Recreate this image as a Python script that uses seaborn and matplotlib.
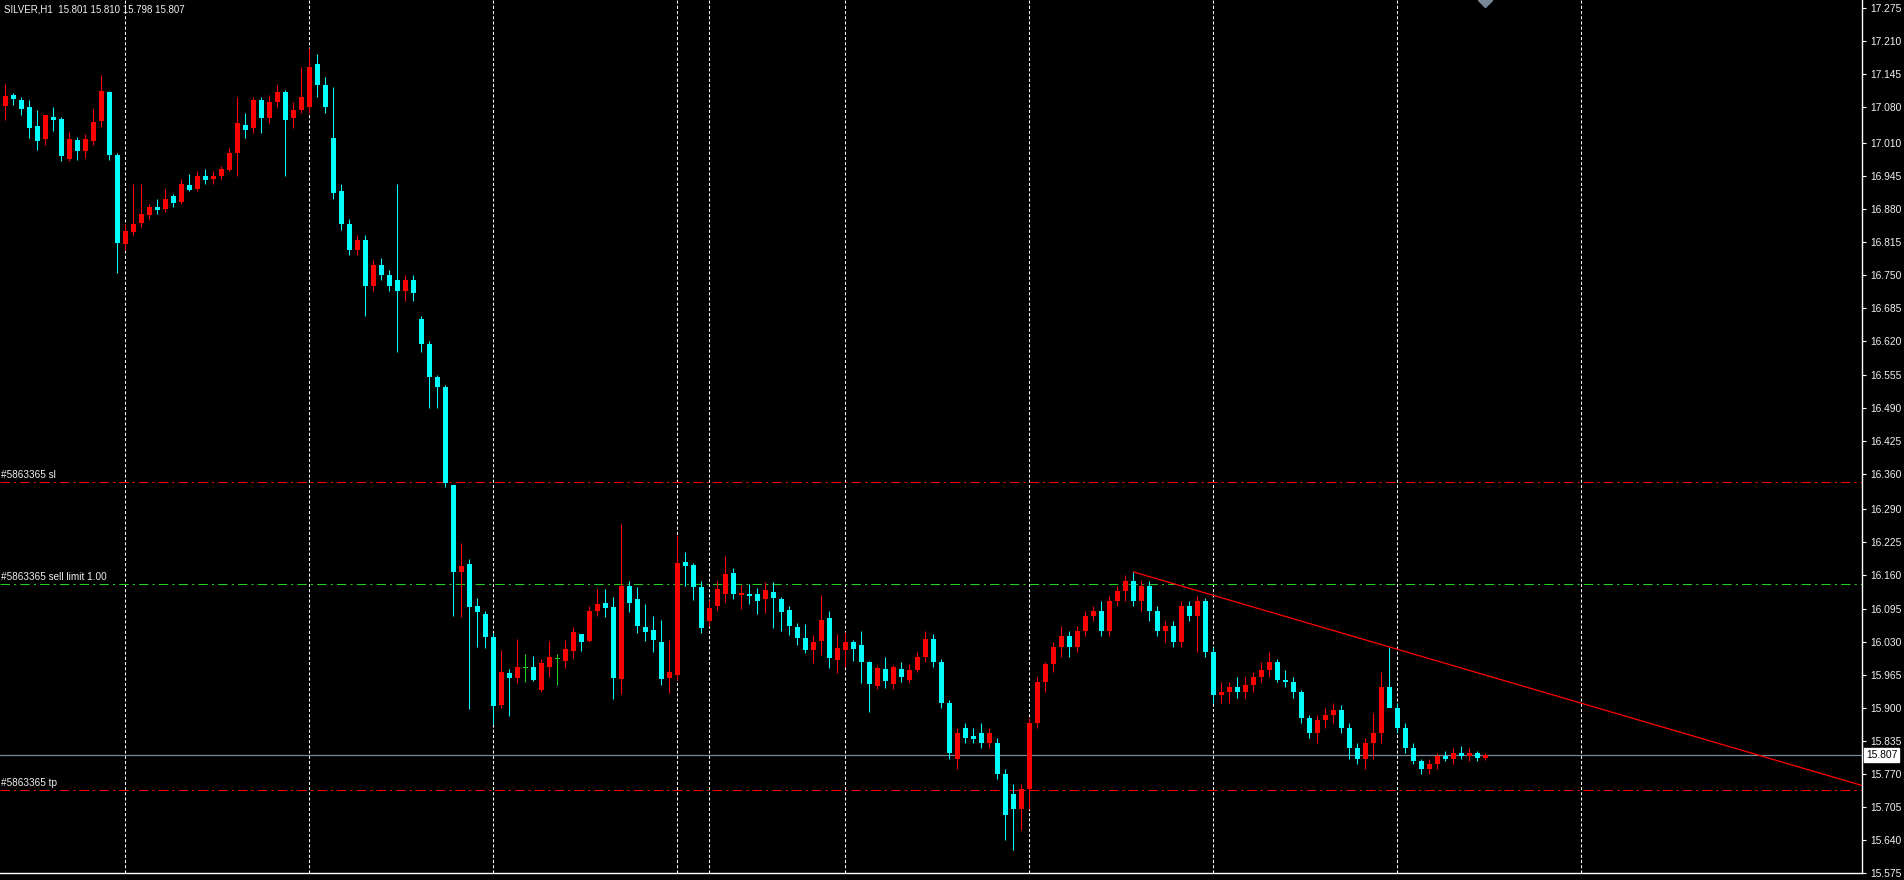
import numpy as np
import pandas as pd
import matplotlib
matplotlib.use("Agg")
import matplotlib.pyplot as plt
import seaborn as sns

# ---------------------------------------------------------------------------
# data: SILVER H1 candles
# ---------------------------------------------------------------------------
OPEN = [
    17.083, 17.105, 17.095, 17.081, 17.044, 17.018, 17.061, 17.057, 16.979, 17.016,
    16.995, 17.014, 17.054, 17.110, 16.987, 16.812, 16.836, 16.852, 16.868, 16.884,
    16.880, 16.905, 16.895, 16.928, 16.920, 16.945, 16.940, 16.945, 16.958, 16.990,
    17.045, 17.040, 17.095, 17.060, 17.090, 17.110, 17.060, 17.075, 17.080, 17.165,
    17.125, 17.020, 16.915, 16.850, 16.800, 16.820, 16.730, 16.770, 16.750, 16.740,
    16.720, 16.740, 16.665, 16.615, 16.550, 16.530, 16.338, 16.167, 16.183, 16.100,
    16.085, 16.039, 15.906, 15.969, 15.959, 15.978, 15.980, 15.935, 15.980, 15.996,
    15.992, 16.012, 16.045, 16.031, 16.090, 16.106, 16.098, 15.957, 16.140, 16.114,
    16.059, 16.053, 16.029, 15.959, 15.965, 16.187, 16.181, 16.138, 16.071, 16.100,
    16.124, 16.165, 16.122, 16.124, 16.124, 16.114, 16.128, 16.114, 16.092, 16.059,
    16.037, 16.014, 16.031, 16.077, 15.994, 16.014, 16.029, 16.024, 15.990, 15.943,
    15.976, 15.947, 15.976, 15.955, 15.975, 16.000, 16.035, 15.990, 15.910, 15.800,
    15.860, 15.845, 15.850, 15.830, 15.830, 15.770, 15.730, 15.700, 15.740, 15.870,
    15.950, 15.985, 16.020, 16.040, 16.020, 16.050, 16.080, 16.090, 16.050, 16.110,
    16.130, 16.150, 16.110, 16.140, 16.090, 16.050, 16.060, 16.030, 16.100, 16.080,
    16.110, 16.010, 15.925, 15.930, 15.940, 15.930, 15.945, 15.960, 15.975, 15.990,
    15.955, 15.950, 15.930, 15.880, 15.850, 15.875, 15.885, 15.895, 15.860, 15.820,
    15.800, 15.830, 15.850, 15.940, 15.900, 15.860, 15.820, 15.795, 15.780, 15.790,
    15.805, 15.800, 15.810, 15.805, 15.810, 15.801,
]
HIGH = [
    17.126, 17.109, 17.101, 17.095, 17.075, 17.065, 17.081, 17.061, 17.032, 17.022,
    17.028, 17.077, 17.144, 17.112, 16.990, 16.850, 16.930, 16.930, 16.890, 16.900,
    16.920, 16.910, 16.940, 16.950, 16.955, 16.960, 16.955, 16.965, 17.000, 17.100,
    17.070, 17.100, 17.100, 17.105, 17.125, 17.115, 17.090, 17.160, 17.196, 17.185,
    17.140, 17.120, 16.930, 16.860, 16.830, 16.830, 16.780, 16.785, 16.760, 16.930,
    16.750, 16.750, 16.670, 16.620, 16.555, 16.535, 16.338, 16.224, 16.193, 16.116,
    16.090, 16.047, 16.014, 15.976, 16.035, 16.006, 16.002, 15.996, 16.031, 16.006,
    16.033, 16.058, 16.045, 16.100, 16.134, 16.134, 16.118, 16.261, 16.149, 16.138,
    16.104, 16.081, 16.073, 16.033, 16.240, 16.206, 16.185, 16.149, 16.112, 16.149,
    16.198, 16.175, 16.142, 16.144, 16.136, 16.147, 16.147, 16.118, 16.100, 16.067,
    16.065, 16.043, 16.122, 16.091, 16.045, 16.049, 16.033, 16.051, 15.992, 15.982,
    16.000, 15.984, 15.990, 15.985, 16.010, 16.050, 16.045, 15.995, 15.915, 15.860,
    15.870, 15.860, 15.870, 15.860, 15.840, 15.780, 15.750, 15.750, 15.880, 15.960,
    15.990, 16.030, 16.060, 16.050, 16.060, 16.090, 16.100, 16.110, 16.120, 16.140,
    16.160, 16.167, 16.150, 16.150, 16.100, 16.070, 16.070, 16.110, 16.110, 16.120,
    16.115, 16.020, 15.950, 15.950, 15.960, 15.960, 15.970, 15.990, 16.010, 15.995,
    15.975, 15.960, 15.935, 15.885, 15.885, 15.900, 15.910, 15.905, 15.870, 15.830,
    15.840, 15.890, 15.970, 16.020, 15.910, 15.870, 15.830, 15.800, 15.800, 15.810,
    15.815, 15.820, 15.825, 15.820, 15.815, 15.810,
]
LOW = [
    17.055, 17.085, 17.065, 17.020, 16.996, 17.006, 17.034, 16.975, 16.975, 16.977,
    16.981, 17.006, 17.042, 16.977, 16.755, 16.800, 16.830, 16.845, 16.860, 16.870,
    16.875, 16.885, 16.890, 16.915, 16.915, 16.930, 16.930, 16.940, 16.955, 16.945,
    17.020, 17.030, 17.030, 17.050, 17.080, 16.945, 17.040, 17.070, 17.070, 17.100,
    17.070, 16.900, 16.840, 16.790, 16.790, 16.670, 16.720, 16.740, 16.720, 16.600,
    16.700, 16.700, 16.600, 16.490, 16.490, 16.333, 16.081, 16.079, 15.898, 16.020,
    16.018, 15.868, 15.900, 15.883, 15.949, 15.950, 15.953, 15.930, 15.961, 15.945,
    15.978, 15.998, 16.012, 16.029, 16.081, 16.079, 15.917, 15.927, 16.088, 16.047,
    16.031, 16.010, 15.945, 15.929, 15.955, 16.140, 16.112, 16.047, 16.060, 16.092,
    16.108, 16.114, 16.094, 16.104, 16.085, 16.086, 16.057, 16.051, 16.043, 16.024,
    16.008, 15.988, 16.004, 15.978, 15.969, 15.980, 15.992, 15.949, 15.892, 15.937,
    15.939, 15.937, 15.950, 15.950, 15.970, 15.990, 15.980, 15.900, 15.800, 15.780,
    15.830, 15.830, 15.820, 15.820, 15.760, 15.640, 15.620, 15.660, 15.700, 15.860,
    15.930, 15.970, 16.000, 16.000, 16.010, 16.040, 16.070, 16.040, 16.040, 16.100,
    16.110, 16.100, 16.090, 16.070, 16.040, 16.030, 16.020, 16.020, 16.070, 16.010,
    16.000, 15.910, 15.910, 15.910, 15.920, 15.920, 15.930, 15.950, 15.960, 15.950,
    15.940, 15.920, 15.870, 15.840, 15.830, 15.860, 15.870, 15.850, 15.800, 15.790,
    15.780, 15.800, 15.830, 15.920, 15.850, 15.810, 15.790, 15.770, 15.770, 15.780,
    15.795, 15.790, 15.800, 15.795, 15.795, 15.798,
]
CLOSE = [
    17.103, 17.097, 17.077, 17.040, 17.014, 17.065, 17.055, 16.985, 17.018, 16.995,
    17.018, 17.052, 17.112, 16.987, 16.814, 16.838, 16.850, 16.870, 16.884, 16.878,
    16.900, 16.893, 16.930, 16.918, 16.945, 16.938, 16.945, 16.960, 16.990, 17.050,
    17.035, 17.095, 17.060, 17.090, 17.110, 17.055, 17.075, 17.100, 17.160, 17.125,
    17.080, 16.912, 16.850, 16.800, 16.820, 16.730, 16.770, 16.750, 16.730, 16.720,
    16.740, 16.715, 16.615, 16.550, 16.530, 16.341, 16.166, 16.179, 16.097, 16.088,
    16.038, 15.904, 15.971, 15.959, 15.980, 15.978, 15.955, 15.987, 16.000, 15.996,
    16.016, 16.049, 16.029, 16.090, 16.104, 16.096, 15.959, 16.140, 16.106, 16.061,
    16.049, 16.033, 15.957, 15.971, 16.185, 16.179, 16.138, 16.057, 16.096, 16.134,
    16.163, 16.124, 16.126, 16.120, 16.110, 16.132, 16.116, 16.088, 16.061, 16.037,
    16.014, 16.029, 16.073, 15.998, 16.018, 16.029, 16.016, 15.990, 15.947, 15.978,
    15.953, 15.980, 15.960, 15.975, 16.000, 16.035, 15.990, 15.910, 15.810, 15.850,
    15.840, 15.838, 15.830, 15.850, 15.770, 15.690, 15.700, 15.740, 15.870, 15.950,
    15.985, 16.020, 16.040, 16.020, 16.050, 16.080, 16.090, 16.050, 16.110, 16.130,
    16.150, 16.110, 16.140, 16.090, 16.050, 16.060, 16.030, 16.100, 16.080, 16.110,
    16.010, 15.925, 15.930, 15.940, 15.930, 15.945, 15.960, 15.975, 15.990, 15.955,
    15.950, 15.930, 15.880, 15.850, 15.875, 15.885, 15.895, 15.860, 15.820, 15.800,
    15.830, 15.850, 15.940, 15.900, 15.860, 15.820, 15.795, 15.780, 15.790, 15.805,
    15.800, 15.810, 15.805, 15.810, 15.801, 15.807,
]

# day separators (bar index), order levels, trend line anchors
SEPARATORS = [15, 38, 61, 84, 88, 105, 128, 151, 174, 197]
LEVELS = {"sl": 16.343, "sell limit 1.00": 16.143, "tp": 15.738}
BID = 15.807
TREND_X = [141, 232.1]
TREND_Y = [16.167, 15.747]

PRICE_TICKS = [17.275, 17.210, 17.145, 17.080, 17.010, 16.945, 16.880, 16.815, 16.750,
               16.685, 16.620, 16.555, 16.490, 16.425, 16.360, 16.290, 16.225, 16.160,
               16.095, 16.030, 15.965, 15.900, 15.835, 15.770, 15.705, 15.640, 15.575]
TIME_TICKS = list(range(6, 232, 8))
TIME_LABELS = ["8 Dec 05:00", "8 Dec 13:00", "8 Dec 21:00", "9 Dec 06:00", "9 Dec 14:00",
               "9 Dec 22:00", "10 Dec 07:00", "10 Dec 15:00", "10 Dec 23:00", "11 Dec 08:00",
               "11 Dec 16:00", "12 Dec 01:00", "12 Dec 09:00", "12 Dec 17:00", "15 Dec 04:00",
               "15 Dec 12:00", "15 Dec 20:00", "16 Dec 05:00", "16 Dec 13:00", "16 Dec 21:00",
               "17 Dec 06:00", "17 Dec 14:00", "17 Dec 22:00", "18 Dec 07:00", "18 Dec 15:00",
               "18 Dec 23:00", "19 Dec 08:00", "19 Dec 16:00", "22 Dec 01:00"]

BULL = "#ff0000"
BEAR = "#00ffff"
DOJI = "#22d022"
FG = "#f0f0f0"

sns.set_style("dark", {"axes.facecolor": "black", "figure.facecolor": "black"})
plt.rcParams["font.family"] = ["Liberation Sans", "DejaVu Sans"]

df = pd.DataFrame({"open": OPEN, "high": HIGH, "low": LOW, "close": CLOSE})
df["x"] = np.arange(len(df))
df["color"] = np.where(df["close"] > df["open"], BULL,
                       np.where(df["close"] < df["open"], BEAR, DOJI))
df["bottom"] = df[["open", "close"]].min(axis=1)
df["height"] = (df["close"] - df["open"]).abs().clip(lower=0.0018)

fig = plt.figure(figsize=(19.04, 8.80), dpi=100)
ax = fig.add_axes([0, 7 / 880, 1862 / 1904, 873 / 880])
ax.set_facecolor("black")

# period separators
for s in SEPARATORS:
    ax.axvline(s, color="white", lw=0.75, ls=(0, (3, 2)), zorder=1)

# order levels
dashdot = (0, (9, 4, 2, 4))
ax.axhline(LEVELS["sl"], color="#ff0000", lw=0.75, ls=dashdot, zorder=1)
ax.axhline(LEVELS["sell limit 1.00"], color="#22d022", lw=0.75, ls=dashdot, zorder=1)
ax.axhline(LEVELS["tp"], color="#ff0000", lw=0.75, ls=dashdot, zorder=1)
ax.axhline(BID, color="#778899", lw=0.9, zorder=1)
for name, lvl in LEVELS.items():
    ax.annotate(f"#5863365 {name}", xy=(0, lvl), xycoords=("axes fraction", "data"),
                xytext=(1, 2), textcoords="offset pixels", color=FG, fontsize=7.2,
                va="bottom", ha="left")

# candles
ax.vlines(df["x"], df["low"], df["high"], colors=df["color"], lw=0.75, zorder=3)
ax.bar(df["x"], df["height"], bottom=df["bottom"], width=0.62, color=df["color"],
       linewidth=0, zorder=4)

# trend line
sns.lineplot(x=TREND_X, y=TREND_Y, ax=ax, color="#ff0000", lw=0.9, zorder=5)

# chart shift marker
ax.plot([185], [17.2913], marker="D", ms=7, color="#778899", zorder=6, clip_on=True)

ax.set_xlim(-0.66, 232.09)
ax.set_ylim(15.5755, 17.2913)

# right price scale
ax.yaxis.tick_right()
ax.set_yticks(PRICE_TICKS)
ax.set_yticklabels([f"{t:.3f}" for t in PRICE_TICKS])
ax.tick_params(axis="y", colors="white", labelcolor=FG, labelsize=7.4, length=3,
               width=0.8, direction="out", pad=3)
ax.set_xticks(TIME_TICKS)
ax.set_xticklabels(TIME_LABELS, ha="left")
ax.tick_params(axis="x", colors="white", labelcolor=FG, labelsize=7.4, length=3,
               width=0.8, direction="out", pad=2)
ax.grid(False)
for side in ["top", "left"]:
    ax.spines[side].set_visible(False)
for side in ["right", "bottom"]:
    ax.spines[side].set_color("white")
    ax.spines[side].set_linewidth(1)

# bid label box
ax.annotate(f"{BID:.3f}", xy=(1, BID), xycoords=("axes fraction", "data"),
            xytext=(4, 0), textcoords="offset pixels", va="center", ha="left",
            fontsize=7.4, color="black",
            bbox=dict(boxstyle="square,pad=0.15", fc="white", ec="white"))

fig.text(4 / 1904, 1 - 4 / 880, "SILVER,H1  15.801 15.810 15.798 15.807", color=FG,
         fontsize=7.0, va="top", ha="left")

fig.savefig("out.png", dpi=100, facecolor="black")
